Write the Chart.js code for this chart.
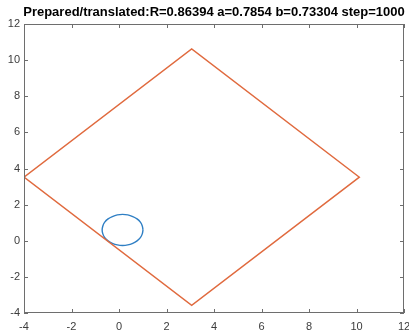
<!DOCTYPE html>
<html>
<head>
<meta charset="utf-8">
<script src="https://cdn.jsdelivr.net/npm/chart.js@4/dist/chart.umd.min.js"></script>
<style>
  html, body { margin:0; padding:0; background:#fff; }
  #wrap { width:409px; height:333px; }
</style>
</head>
<body>
<div id="wrap"><canvas id="c"></canvas></div>
<script>
// ── DATA ─────────────────────────────────────────────
const titleText = 'Prepared/translated:R=0.86394 a=0.7854 b=0.73304 step=1000';
const xTicks = [-4, -2, 0, 2, 4, 6, 8, 10, 12];
const yTicks = [-4, -2, 0, 2, 4, 6, 8, 10, 12];

// diamond (orange)
const diamondX = [-4.0, 3.06, 10.12, 3.06, -4.0];
const diamondY = [3.52, 10.62, 3.52, -3.58, 3.52];

const circleX = [1.01, 0.98, 0.90, 0.76, 0.58, 0.37, 0.15, -0.07, -0.28, -0.46, -0.60, -0.68, -0.71,
                 -0.68, -0.60, -0.46, -0.28, -0.07, 0.15, 0.37, 0.58, 0.76, 0.90, 0.98, 1.01];
const circleY = [0.60, 0.82, 1.03, 1.21, 1.34, 1.43, 1.46, 1.43, 1.34, 1.21, 1.03, 0.82, 0.60,
                 0.38, 0.17, -0.01, -0.14, -0.23, -0.26, -0.23, -0.14, -0.01, 0.17, 0.38, 0.60];

const pts = (xs, ys) => xs.map((x, i) => ({ x, y: ys[i] }));
const FONT = 'Liberation Sans, Arial, sans-serif';

// box round the plot + inward ticks + title over the plot centre, matlab style
const boxTicks = {
  id: 'boxTicks',
  afterDatasetsDraw(chart) {
    const { ctx, chartArea: a, scales: { x, y } } = chart;
    const L = 4;
    ctx.save();
    ctx.strokeStyle = '#6e6e6e';
    ctx.lineWidth = 1;
    ctx.strokeRect(a.left + 0.5, a.top + 0.5, a.width - 1, a.height - 1);
    ctx.beginPath();
    xTicks.forEach(v => {
      const px = Math.round(x.getPixelForValue(v)) + 0.5;
      ctx.moveTo(px, a.bottom); ctx.lineTo(px, a.bottom - L);
      ctx.moveTo(px, a.top);    ctx.lineTo(px, a.top + L);
    });
    yTicks.forEach(v => {
      const py = Math.round(y.getPixelForValue(v)) + 0.5;
      ctx.moveTo(a.left, py);  ctx.lineTo(a.left + L, py);
      ctx.moveTo(a.right, py); ctx.lineTo(a.right - L, py);
    });
    ctx.stroke();

    ctx.fillStyle = '#000';
    ctx.font = 'bold 13px ' + FONT;
    ctx.textAlign = 'center';
    ctx.textBaseline = 'middle';
    ctx.fillText(titleText, (a.left + a.right) / 2, 12.5);
    ctx.restore();
  }
};

const noPad = s => { s.paddingLeft = 0; s.paddingRight = 0; s.paddingTop = 0; s.paddingBottom = 0; };

new Chart(document.getElementById('c'), {
  type: 'scatter',
  data: {
    datasets: [
      { data: pts(diamondX, diamondY), showLine: true, borderColor: '#E06A3E', borderWidth: 1.4, pointRadius: 0, tension: 0 },
      { data: pts(circleX, circleY), showLine: true, borderColor: '#2F7FC4', borderWidth: 1.4, pointRadius: 0, tension: 0.4 }
    ]
  },
  options: {
    responsive: true, maintainAspectRatio: false, animation: false,
    layout: { padding: { left: 0, right: 5, top: 24, bottom: 0 } },
    plugins: {
      legend: { display: false },
      tooltip: { enabled: false },
      title: { display: false }
    },
    scales: {
      x: {
        type: 'linear', min: -4, max: 12,
        afterBuildTicks: s => { s.ticks = xTicks.map(v => ({ value: v })); },
        afterFit: s => { s.height = 20; noPad(s); },
        grid: { display: false, drawTicks: false },
        border: { display: false },
        ticks: { color: '#3c3c3c', padding: 7, maxRotation: 0, font: { family: FONT, size: 11 } }
      },
      y: {
        type: 'linear', min: -4, max: 12,
        afterBuildTicks: s => { s.ticks = yTicks.map(v => ({ value: v })); },
        afterFit: s => { s.width = 24; noPad(s); },
        grid: { display: false, drawTicks: false },
        border: { display: false },
        ticks: { color: '#3c3c3c', padding: 4, font: { family: FONT, size: 11 } }
      }
    }
  },
  plugins: [boxTicks]
});
</script>
</body>
</html>
